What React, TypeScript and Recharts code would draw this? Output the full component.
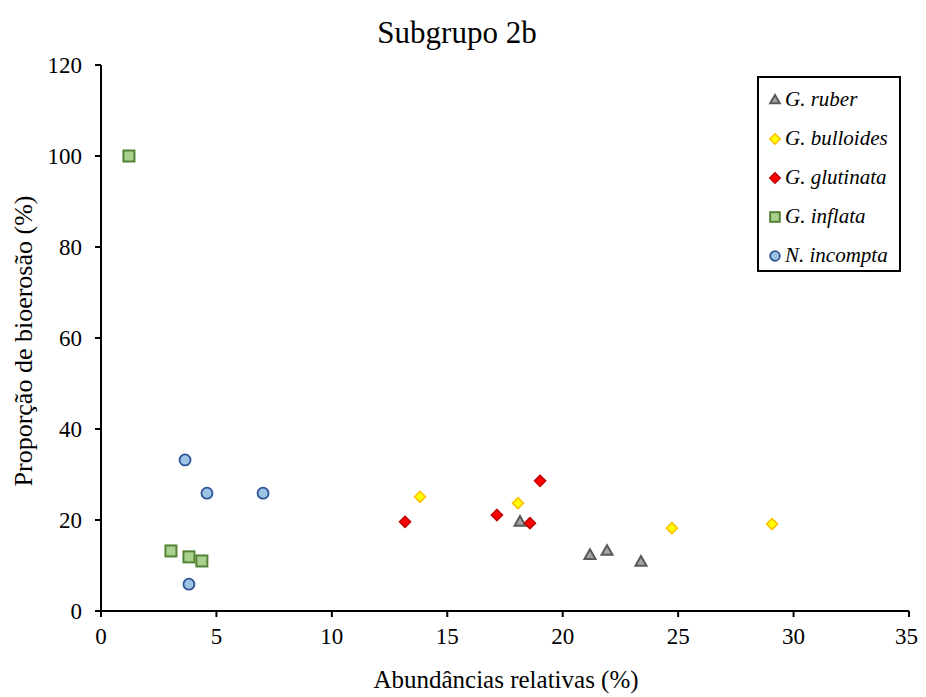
import { ScatterChart, Scatter, XAxis, YAxis } from "recharts";

// Relative abundance (x) vs. bioerosion proportion (y), subgroup 2b
const ruber = [
  { x: 18.15, y: 19.6 },
  { x: 21.18, y: 12.3 },
  { x: 21.92, y: 13.2 },
  { x: 23.39, y: 10.8 },
];
const bulloides = [
  { x: 13.82, y: 25.1 },
  { x: 18.06, y: 23.7 },
  { x: 24.73, y: 18.2 },
  { x: 29.07, y: 19.1 },
];
const glutinata = [
  { x: 13.17, y: 19.6 },
  { x: 17.15, y: 21.1 },
  { x: 18.58, y: 19.3 },
  { x: 19.02, y: 28.6 },
];
const inflata = [
  { x: 1.21, y: 100 },
  { x: 3.03, y: 13.2 },
  { x: 3.81, y: 11.9 },
  { x: 4.37, y: 11.0 },
];
const incompta = [
  { x: 3.64, y: 33.2 },
  { x: 4.59, y: 25.9 },
  { x: 7.02, y: 25.9 },
  { x: 3.81, y: 5.9 },
];

const xTicks = [0, 5, 10, 15, 20, 25, 30, 35];
const yTicks = [0, 20, 40, 60, 80, 100, 120];

const FONT = '"Liberation Serif", "Times New Roman", serif';

type Kind = "triangle" | "diamond" | "square" | "circle";

const series: { name: string; data: { x: number; y: number }[]; kind: Kind; fill: string; stroke: string }[] = [
  { name: "G. ruber", data: ruber, kind: "triangle", fill: "#a5a5a5", stroke: "#595959" },
  { name: "G. bulloides", data: bulloides, kind: "diamond", fill: "#ffff00", stroke: "#ffc000" },
  { name: "G. glutinata", data: glutinata, kind: "diamond", fill: "#ff0000", stroke: "#c00000" },
  { name: "G. inflata", data: inflata, kind: "square", fill: "#a9d18e", stroke: "#548235" },
  { name: "N. incompta", data: incompta, kind: "circle", fill: "#9dc3e6", stroke: "#2f5597" },
];

const Marker = ({ kind, cx, cy, fill, stroke, r = 5.5 }: any) => {
  const sw = 1.6;
  if (kind === "triangle") {
    const h = r * 1.75;
    return (
      <polygon
        points={`${cx},${cy - h * 0.6} ${cx - r},${cy + h * 0.4} ${cx + r},${cy + h * 0.4}`}
        fill={fill}
        stroke={stroke}
        strokeWidth={sw + 0.4}
      />
    );
  }
  if (kind === "diamond") {
    return (
      <polygon
        points={`${cx},${cy - r} ${cx + r},${cy} ${cx},${cy + r} ${cx - r},${cy}`}
        fill={fill}
        stroke={stroke}
        strokeWidth={sw}
      />
    );
  }
  if (kind === "square") {
    return <rect x={cx - r} y={cy - r} width={r * 2} height={r * 2} fill={fill} stroke={stroke} strokeWidth={sw + 0.4} />;
  }
  return <circle cx={cx} cy={cy} r={r} fill={fill} stroke={stroke} strokeWidth={sw + 0.2} />;
};

const LegendBox = () => (
  <div
    style={{
      position: "absolute",
      left: 749,
      top: 68,
      width: 140,
      height: 190,
      border: "2px solid #000",
      background: "#fff",
      paddingTop: 2,
      fontFamily: FONT,
    }}
  >
    {series.map((s) => (
      <div key={s.name} style={{ display: "flex", alignItems: "center", height: 39, paddingLeft: 9 }}>
        <svg width={14} height={14} style={{ marginRight: 3 }}>
          <Marker kind={s.kind} cx={7} cy={7} r={s.kind === "diamond" ? 5.2 : 4.8} fill={s.fill} stroke={s.stroke} />
        </svg>
        <span style={{ fontStyle: "italic", fontSize: 21, color: "#000" }}>{s.name}</span>
      </div>
    ))}
  </div>
);

const tickStyle = { fontSize: 23, fill: "#000", fontFamily: FONT };
const axisStroke = { stroke: "#000", strokeWidth: 2 };

export default function App() {
  return (
    <div style={{ position: "relative", width: 910, height: 689, fontFamily: FONT }}>
      <ScatterChart width={910} height={681} margin={{ top: 57, right: 9, bottom: 48, left: 33 }}>
        <XAxis
          type="number"
          dataKey="x"
          domain={[0, 35]}
          ticks={xTicks}
          tick={tickStyle}
          tickLine={axisStroke}
          axisLine={axisStroke}
          tickSize={6}
          tickMargin={11}
          height={30}
        />
        <YAxis
          type="number"
          dataKey="y"
          domain={[0, 120]}
          ticks={yTicks}
          tick={tickStyle}
          tickLine={axisStroke}
          axisLine={axisStroke}
          tickSize={6}
          tickMargin={13}
          width={60}
        />
        {series.map((s) => (
          <Scatter
            key={s.name}
            name={s.name}
            data={s.data}
            isAnimationActive={false}
            shape={(p: any) => <Marker kind={s.kind} cx={p.cx} cy={p.cy} fill={s.fill} stroke={s.stroke} />}
          />
        ))}
      </ScatterChart>
      <svg
        width={910}
        height={689}
        style={{ position: "absolute", left: 0, top: 0, pointerEvents: "none" }}
        fontFamily={FONT}
        fill="#000"
      >
        <text x={449} y={35} textAnchor="middle" fontSize={31}>
          Subgrupo 2b
        </text>
        <text x={498} y={680} textAnchor="middle" fontSize={25}>
          Abundâncias relativas (%)
        </text>
        <text x={0} y={0} textAnchor="middle" fontSize={26} transform="translate(24 333) rotate(-90)">
          Proporção de bioerosão (%)
        </text>
      </svg>
      <LegendBox />
    </div>
  );
}
